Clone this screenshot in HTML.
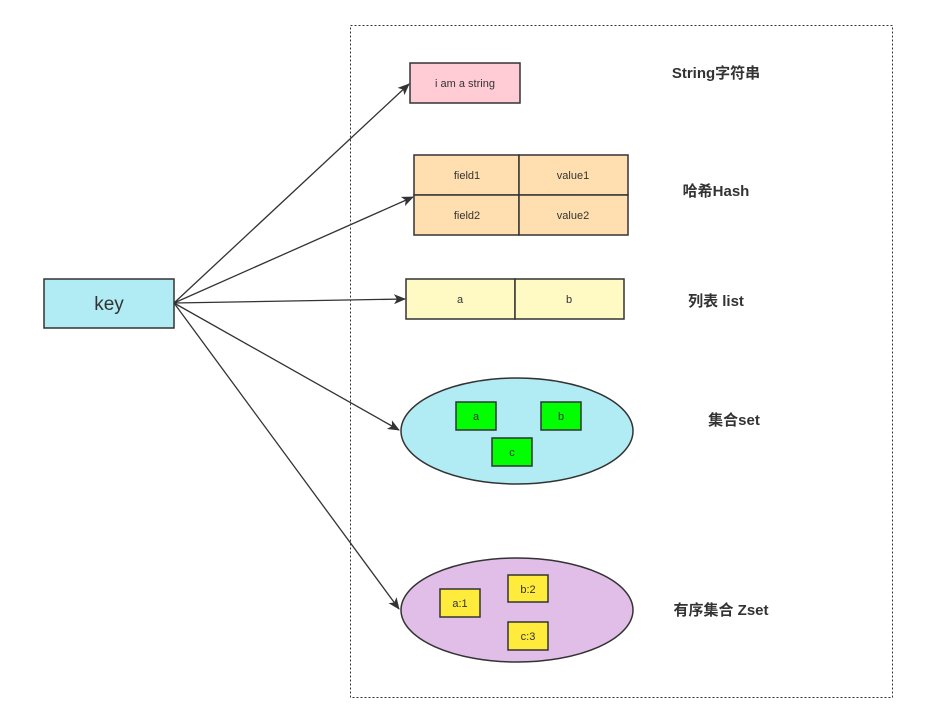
<!DOCTYPE html>
<html><head><meta charset="utf-8"><style>body{margin:0;background:#fff}svg{display:block}</style></head>
<body>
<svg width="932" height="714" viewBox="0 0 932 714" xmlns="http://www.w3.org/2000/svg" font-family="Liberation Sans, Noto Sans CJK SC, sans-serif">
<defs><marker id="ar" markerWidth="12" markerHeight="10" refX="11" refY="5" orient="auto" markerUnits="userSpaceOnUse"><path d="M0,0 L12,5 L0,10 L3,5 z" fill="#333"/></marker></defs>
<rect x="350.5" y="25.5" width="542" height="672" fill="none" stroke="#333" stroke-dasharray="2,2"/>
<rect x="44" y="279" width="130" height="49" fill="#B1EBF3" stroke="#333" stroke-width="1.5"/>
<text x="109" y="310" font-size="19" text-anchor="middle" fill="#333">key</text>
<g stroke="#333" stroke-width="1.3" fill="none" marker-end="url(#ar)">
<line x1="174" y1="303" x2="409" y2="84"/>
<line x1="174" y1="303" x2="413" y2="197"/>
<line x1="174" y1="303" x2="405" y2="299"/>
<line x1="174" y1="303" x2="399" y2="430"/>
<line x1="174" y1="303" x2="399" y2="609"/>
</g>
<g font-size="11" fill="#333" text-anchor="middle" stroke="#333" stroke-width="1.5">
<rect x="410" y="63" width="110" height="40" fill="#FFCCD5"/>
<rect x="414" y="155" width="105" height="40" fill="#FFDFAF"/>
<rect x="519" y="155" width="109" height="40" fill="#FFDFAF"/>
<rect x="414" y="195" width="105" height="40" fill="#FFDFAF"/>
<rect x="519" y="195" width="109" height="40" fill="#FFDFAF"/>
<rect x="406" y="279" width="109" height="40" fill="#FFF9C4"/>
<rect x="515" y="279" width="109" height="40" fill="#FFF9C4"/>
<ellipse cx="517" cy="431" rx="116" ry="53" fill="#B1EBF3"/>
<rect x="456" y="402" width="40" height="28" fill="#00FF00"/>
<rect x="541" y="402" width="40" height="28" fill="#00FF00"/>
<rect x="492" y="438" width="40" height="28" fill="#00FF00"/>
<ellipse cx="517" cy="610" rx="116" ry="52" fill="#E1BEE7"/>
<rect x="440" y="589" width="40" height="28" fill="#FFEB3B"/>
<rect x="508" y="575" width="40" height="27" fill="#FFEB3B"/>
<rect x="508" y="622" width="40" height="28" fill="#FFEB3B"/>
</g>
<g font-size="11" fill="#333" text-anchor="middle">
<text x="465" y="87">i am a string</text>
<text x="467" y="179">field1</text><text x="573" y="179">value1</text>
<text x="467" y="219">field2</text><text x="573" y="219">value2</text>
<text x="460" y="303">a</text><text x="569" y="303">b</text>
<text x="476" y="420">a</text><text x="561" y="420">b</text><text x="512" y="456">c</text>
<text x="460" y="607">a:1</text><text x="528" y="593">b:2</text><text x="528" y="640">c:3</text>
</g>
<g font-size="15" font-weight="bold" fill="#333" text-anchor="middle">
<text x="716" y="78">String字符串</text>
<text x="716" y="196">哈希Hash</text>
<text x="716" y="306">列表 list</text>
<text x="734" y="425">集合set</text>
<text x="721" y="615">有序集合 Zset</text>
</g>
</svg>
</body></html>
